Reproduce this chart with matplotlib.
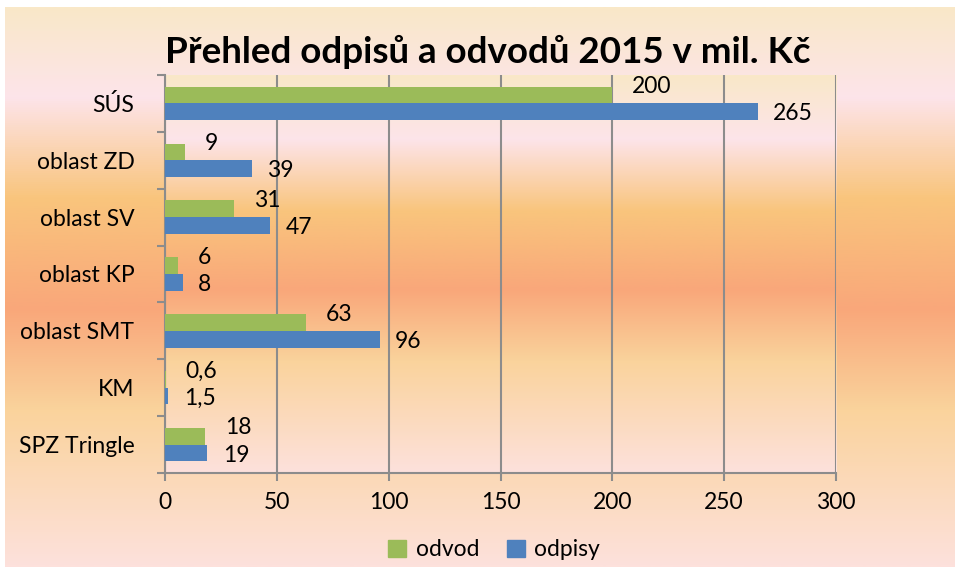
import numpy as np
import matplotlib
matplotlib.use("Agg")
import matplotlib.pyplot as plt
from matplotlib.colors import LinearSegmentedColormap
from matplotlib.patches import Patch

categories = ["SÚS", "oblast ZD", "oblast SV", "oblast KP", "oblast SMT", "KM", "SPZ Tringle"]
odvod = [200, 9, 31, 6, 63, 0.6, 18]
odpisy = [265, 39, 47, 8, 96, 1.5, 19]
odvod_labels = ["200", "9", "31", "6", "63", "0,6", "18"]
odpisy_labels = ["265", "39", "47", "8", "96", "1,5", "19"]
xticks = [0, 50, 100, 150, 200, 250, 300]
title = "Přehled odpisů a odvodů 2015 v mil. Kč"

GREEN = "#9BBB59"
BLUE = "#4F81BD"
FONT = ["Lato", "DejaVu Sans"]
plt.rcParams["font.family"] = FONT

W, H = 955, 567
fig = plt.figure(figsize=(W / 100, H / 100), dpi=100)
fig.patch.set_facecolor("white")

stops = [(0.0, "#F9E8C8"), (0.16, "#FDE4EA"), (0.34, "#F9C57D"),
         (0.54, "#F9A77A"), (0.72, "#FAD39C"), (1.0, "#FDE1DC")]
cmap = LinearSegmentedColormap.from_list("bg", stops)
grad = np.linspace(0, 1, 512).reshape(-1, 1)

# chart background
bg = fig.add_axes([5 / W, 0, 1 - 5 / W, 1 - 7 / H])
bg.imshow(grad, aspect="auto", cmap=cmap, extent=[0, 1, 0, 1], origin="upper")
bg.set_axis_off()
bg.set_zorder(-2)

left, right, top, bottom = 165, 836, 75, 473
pos = [left / W, 1 - bottom / H, (right - left) / W, (bottom - top) / H]
pbg = fig.add_axes(pos)
pbg.imshow(grad, aspect="auto", cmap=cmap, extent=[0, 1, 0, 1], origin="upper")
pbg.set_axis_off()
pbg.set_zorder(-1)

FS = 16.5
ax = fig.add_axes(pos)
ax.patch.set_alpha(0)
n = len(categories)
y = np.arange(n)
bh = 0.295
ax.barh(y - bh / 2, odvod, height=bh, color=GREEN, zorder=3)
ax.barh(y + bh / 2, odpisy, height=bh, color=BLUE, zorder=3)
ax.set_ylim(n - 0.5, -0.5)
ax.set_xlim(0, 300)
ax.set_xticks(xticks)
ax.set_xticklabels([str(t) for t in xticks], fontsize=FS)
ax.set_yticks(y)
ax.set_yticklabels(categories, fontsize=FS)
ax.set_yticks(np.arange(n + 1) - 0.5, minor=True)
ax.tick_params(axis="y", which="major", length=0, pad=22)
ax.tick_params(axis="y", which="minor", length=6, color="#8C8C8C", width=1.5)
ax.tick_params(axis="x", length=6, color="#8C8C8C", width=1.5, pad=8)
ax.grid(axis="x", color="#8C8C8C", linewidth=1.5, zorder=1)
for s in ["top", "right"]:
    ax.spines[s].set_visible(False)
for s in ["left", "bottom"]:
    ax.spines[s].set_color("#8C8C8C")
    ax.spines[s].set_linewidth(1.5)

for i in range(n):
    ax.annotate(odvod_labels[i], (odvod[i], y[i] - bh / 2), xytext=(14, 6),
                textcoords="offset points", ha="left", va="center", fontsize=FS, zorder=4)
    ax.annotate(odpisy_labels[i], (odpisy[i], y[i] + bh / 2), xytext=(11, -1.5),
                textcoords="offset points", ha="left", va="center", fontsize=FS, zorder=4)

fig.text(488 / W, 1 - 52 / H, title, ha="center", va="center", fontsize=26.5, fontweight="bold")

handles = [Patch(color=GREEN, label="odvod"), Patch(color=BLUE, label="odpisy")]
fig.legend(handles=handles, loc="center", bbox_to_anchor=(494 / W, 1 - 550 / H), ncol=2,
           frameon=False, fontsize=FS, handlelength=0.8, handleheight=0.8,
           handletextpad=0.4, columnspacing=1.2)

fig.savefig("out.png", dpi=100)
